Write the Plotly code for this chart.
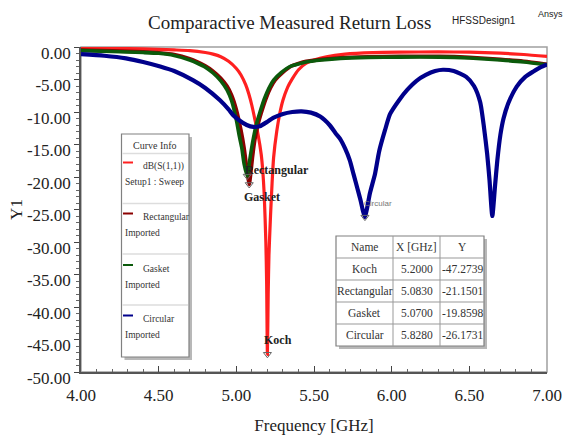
import plotly.graph_objects as go

# ---- Measured return loss curves: frequency (GHz) and S11 (dB) ----
koch_f = [4.00, 4.20, 4.40, 4.60, 4.70, 4.80, 4.85, 4.90, 4.95, 5.00, 5.03, 5.06,
          5.08, 5.10, 5.12, 5.14, 5.16, 5.17, 5.18, 5.19, 5.195, 5.20, 5.205, 5.21,
          5.22, 5.23, 5.24, 5.26, 5.28, 5.30, 5.33, 5.36, 5.40, 5.45, 5.50, 5.58,
          5.70, 5.88, 6.05, 6.30, 6.50, 6.70, 6.85, 7.00]
koch_db = [-0.15, -0.20, -0.30, -0.45, -0.55, -0.85, -1.10, -1.50, -2.20, -3.30, -4.30, -5.80,
           -7.20, -9.00, -11.2, -13.5, -16.5, -19.0, -23.0, -30.0, -36.0, -47.2739, -38.0, -32.0,
           -26.0, -21.0, -17.0, -13.0, -10.2, -8.20, -6.20, -4.90, -3.50, -2.50, -2.00, -1.50,
           -1.10, -0.87, -0.80, -0.75, -0.80, -0.95, -1.15, -1.45]

rect_f = [4.00, 4.20, 4.40, 4.50, 4.60, 4.70, 4.75, 4.80, 4.85, 4.90, 4.94, 4.97,
          5.00, 5.03, 5.05, 5.065, 5.083, 5.095, 5.105, 5.12, 5.14, 5.16, 5.19, 5.22,
          5.25, 5.30, 5.35, 5.40, 5.45, 5.55, 5.67, 5.85, 6.05, 6.31, 6.50, 6.70,
          6.85, 7.00]
rect_db = [-0.45, -0.60, -0.75, -0.88, -1.15, -1.80, -2.30, -2.90, -3.70, -4.80, -6.00, -7.40,
           -9.60, -12.8, -15.5, -18.2, -21.1501, -19.0, -16.8, -14.2, -11.9, -10.2, -8.00, -6.30,
           -5.10, -3.90, -3.00, -2.55, -2.20, -1.90, -1.65, -1.50, -1.45, -1.45, -1.60, -1.90,
           -2.20, -2.65]

gasket_f = [4.00, 4.20, 4.40, 4.50, 4.60, 4.70, 4.75, 4.80, 4.85, 4.90, 4.94, 4.97,
            5.00, 5.02, 5.035, 5.05, 5.07, 5.08, 5.09, 5.11, 5.13, 5.15, 5.18, 5.21,
            5.24, 5.29, 5.345, 5.40, 5.45, 5.55, 5.67, 5.85, 6.05, 6.31, 6.50, 6.70,
            6.85, 7.00]
gasket_db = [-0.55, -0.70, -0.85, -0.97, -1.30, -2.00, -2.50, -3.10, -4.00, -5.20, -6.60, -8.30,
             -11.2, -13.8, -15.5, -18.0, -19.8598, -18.5, -16.8, -14.0, -11.8, -10.2, -8.00, -6.30,
             -5.10, -3.90, -3.00, -2.60, -2.30, -2.00, -1.75, -1.60, -1.55, -1.55, -1.70, -2.00,
             -2.30, -2.75]

circ_f = [4.00, 4.15, 4.29, 4.40, 4.51, 4.60, 4.72, 4.80, 4.895, 4.95, 4.98, 5.02,
          5.067, 5.11, 5.15, 5.20, 5.237, 5.30, 5.36, 5.42, 5.48, 5.54, 5.60, 5.64,
          5.67, 5.70, 5.73, 5.755, 5.78, 5.80, 5.815, 5.828, 5.84, 5.86, 5.893, 5.92,
          5.957, 5.99, 6.05, 6.10, 6.16, 6.22, 6.28, 6.33, 6.40, 6.48, 6.53, 6.57,
          6.595, 6.615, 6.63, 6.648, 6.665, 6.68, 6.70, 6.72, 6.75, 6.805, 6.86, 6.91,
          6.96, 7.00]
circ_db = [-1.10, -1.35, -1.75, -2.30, -3.00, -3.70, -5.10, -6.30, -8.20, -9.60, -10.5, -11.3,
           -12.0, -12.3, -12.2, -11.5, -10.9, -10.3, -10.0, -9.90, -10.1, -10.7, -12.0, -13.3,
           -14.2, -15.6, -17.4, -19.6, -21.8, -23.6, -25.2, -26.1731, -25.0, -22.5, -19.5, -16.0,
           -12.8, -10.3, -8.10, -6.60, -5.20, -4.30, -3.70, -3.50, -3.70, -4.60, -6.00, -8.50,
           -12.5, -16.5, -20.5, -26.0, -21.5, -17.5, -13.5, -11.0, -8.70, -6.10, -4.60, -3.80,
           -3.10, -2.70]

# ---- Marker readout (minimum of each curve) ----
marker_names = ["Koch", "Rectangular", "Gasket", "Circular"]
marker_f = [5.2000, 5.0830, 5.0700, 5.8280]
marker_db = [-47.2739, -21.1501, -19.8598, -26.1731]

# ---- Axis ticks ----
x_ticks = [4.0, 4.5, 5.0, 5.5, 6.0, 6.5, 7.0]
y_ticks = [0, -5, -10, -15, -20, -25, -30, -35, -40, -45, -50]

# ---- Legend entries ----
legend_lines = [("dB(S(1,1))", "Setup1 : Sweep"), ("Rectangular", "Imported"),
                ("Gasket", "Imported"), ("Circular", "Imported")]

SERIF = "Liberation Serif"
SANS = "Liberation Sans"
COLORS = ["#ff2020", "#8b0000", "#0b5a0b", "#00008b"]
WIDTHS = [3.2, 3.6, 3.6, 4.2]

# canvas / plot box in pixels
W, H = 573, 439
L, R, T, B = 81, 547, 47, 372


def px(xp):
    return (xp - L) / (R - L)


def py(yp):
    return (B - yp) / (B - T)


def text_at(x, y, text, font, xanchor="center"):
    return dict(x=px(x), y=py(y), xref="paper", yref="paper", text=text, showarrow=False,
                xanchor=xanchor, yanchor="middle", font=font)


fig = go.Figure()
series = [(koch_f, koch_db), (rect_f, rect_db), (gasket_f, gasket_db), (circ_f, circ_db)]
for (f, db), c, w in zip(series, COLORS, WIDTHS):
    fig.add_trace(go.Scatter(x=f, y=db, mode="lines",
                             line=dict(color=c, width=w, shape="spline", smoothing=0.6),
                             hoverinfo="skip", showlegend=False))

fig.add_trace(go.Scatter(x=marker_f, y=marker_db, mode="markers",
                         marker=dict(symbol="triangle-down-open", size=7,
                                     color="#666666", line=dict(width=1)),
                         showlegend=False, hoverinfo="skip"))

shapes = []
annotations = []

# plot border
shapes.append(dict(type="rect", xref="paper", yref="paper", x0=0, x1=1, y0=0, y1=1,
                   line=dict(color="#a0a0a0", width=1.5), layer="below"))

# marker labels
label_offsets = {"Koch": (-5, 14), "Rectangular": (-6, 14), "Gasket": (-5, -21), "Circular": (-3, 14)}
for name, f, db in zip(marker_names, marker_f, marker_db):
    dx, dy = label_offsets[name]
    if name == "Circular":
        font = dict(family=SANS, size=8, color="#777777")
    else:
        font = dict(family=SERIF, size=12, color="#222222")
        name = "<b>" + name + "</b>"
    annotations.append(dict(x=f, y=db, xref="x", yref="y", text=name, showarrow=False,
                            xanchor="left", yanchor="middle", xshift=dx, yshift=dy, font=font))

# title and header texts
annotations.append(text_at(289, 22, "Comparactive Measured Return Loss",
                           dict(family=SERIF, size=19, color="#222222")))
annotations.append(text_at(484, 20, "HFSSDesign1", dict(family=SANS, size=10, color="#222222")))
annotations.append(text_at(550, 14, "Ansys", dict(family=SANS, size=9, color="#222222")))

# ---- Curve Info box ----
bx0, bx1, by0, by1 = 121.5, 189, 134, 357
shapes.append(dict(type="rect", xref="paper", yref="paper", x0=px(bx0 + 3), x1=px(bx1 + 3),
                   y0=py(by1 + 3), y1=py(by0 + 3), fillcolor="#b8b8b8", line=dict(width=0)))
shapes.append(dict(type="rect", xref="paper", yref="paper", x0=px(bx0), x1=px(bx1),
                   y0=py(by1), y1=py(by0), fillcolor="white", line=dict(color="#808080", width=1.2)))
for yd in [153.5, 203.5, 254, 305]:
    shapes.append(dict(type="line", xref="paper", yref="paper", x0=px(bx0 + 1), x1=px(bx1 - 1),
                       y0=py(yd), y1=py(yd), line=dict(color="#dddddd", width=1.5)))
annotations.append(text_at(155, 145, "Curve Info", dict(family=SERIF, size=10, color="#333333")))
row_top = [162.5, 213.5, 265, 315.5]
for (l1, l2), c, yt in zip(legend_lines, COLORS, row_top):
    shapes.append(dict(type="line", xref="paper", yref="paper", x0=px(123), x1=px(133),
                       y0=py(yt), y1=py(yt), line=dict(color=c, width=2)))
    annotations.append(text_at(141, yt + 3.5, l1, dict(family=SERIF, size=9.5, color="#333333"),
                               xanchor="left"))
    annotations.append(text_at(122.5, yt + 19.5, l2, dict(family=SERIF, size=9.5, color="#333333"),
                               xanchor="left"))

# ---- Marker table ----
tx = [336, 393, 440, 484]
ty = [236, 258, 280, 302, 324, 346]
shapes.append(dict(type="rect", xref="paper", yref="paper", x0=px(tx[0] + 3), x1=px(tx[-1] + 3),
                   y0=py(ty[-1] + 3), y1=py(ty[0] + 3), fillcolor="#b8b8b8", line=dict(width=0)))
shapes.append(dict(type="rect", xref="paper", yref="paper", x0=px(tx[0]), x1=px(tx[-1]),
                   y0=py(ty[-1]), y1=py(ty[0]), fillcolor="white", line=dict(color="#808080", width=1.2)))
for xv in tx[1:-1]:
    shapes.append(dict(type="line", xref="paper", yref="paper", x0=px(xv), x1=px(xv),
                       y0=py(ty[-1]), y1=py(ty[0]), line=dict(color="#999999", width=1)))
for yv in ty[1:-1]:
    shapes.append(dict(type="line", xref="paper", yref="paper", x0=px(tx[0]), x1=px(tx[-1]),
                       y0=py(yv), y1=py(yv), line=dict(color="#999999", width=1)))
rows = [["Name", "X [GHz]", "Y"]] + [[n, f"{f:.4f}", f"{d:.4f}"]
                                      for n, f, d in zip(marker_names, marker_f, marker_db)]
for ri, row in enumerate(rows):
    yc = (ty[ri] + ty[ri + 1]) / 2
    for ci, txt in enumerate(row):
        xc = (tx[ci] + tx[ci + 1]) / 2
        annotations.append(text_at(xc, yc, txt, dict(family=SERIF, size=11.5, color="#333333")))

fig.update_layout(
    width=W, height=H,
    margin=dict(l=L, r=W - R, t=T, b=H - B),
    paper_bgcolor="white", plot_bgcolor="white",
    shapes=shapes, annotations=annotations,
    showlegend=False,
    xaxis=dict(range=[4, 7], tickvals=x_ticks, ticktext=[f"{v:.2f}" for v in x_ticks],
               automargin=False,
               ticks="inside", ticklen=6, tickcolor="#444444", showgrid=False, zeroline=False,
               showline=True, linecolor="#555555", linewidth=1.5,
               minor=dict(dtick=0.1, ticks="inside", ticklen=3, tickcolor="#666666"),
               ticklabelstandoff=7,
               tickfont=dict(family=SERIF, size=17, color="#222222"),
               title=dict(text="Frequency [GHz]", font=dict(family=SERIF, size=17, color="#222222"),
                          standoff=15)),
    yaxis=dict(range=[-50, 0], tickvals=y_ticks, ticktext=[f"{v:.2f}" for v in y_ticks],
               automargin=False,
               ticks="outside", ticklen=5, tickcolor="#444444", showgrid=False, zeroline=False,
               showline=True, linecolor="#555555", linewidth=1.5,
               minor=dict(dtick=1, ticks="outside", ticklen=3, tickcolor="#666666"),
               ticklabelshift=6,
               tickfont=dict(family=SERIF, size=17, color="#222222"),
               title=dict(text="Y1", font=dict(family=SERIF, size=17, color="#222222"), standoff=0)),
)

fig.write_html("out.html")
